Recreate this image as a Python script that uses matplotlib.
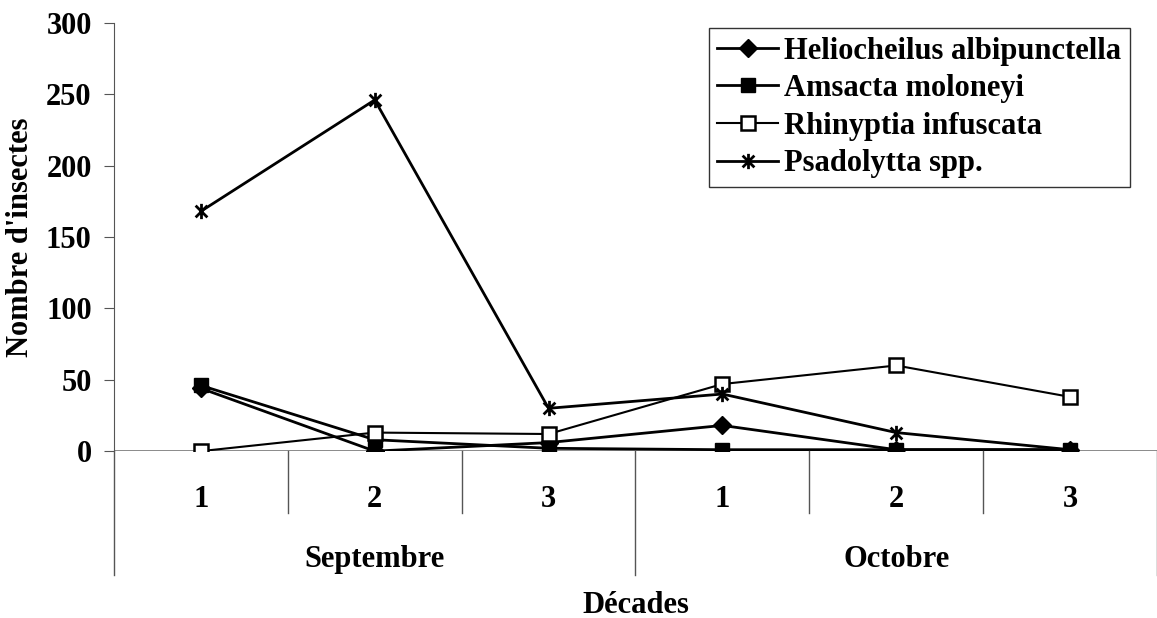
import matplotlib.pyplot as plt
from matplotlib.path import Path

plt.rcParams['font.family'] = ['Liberation Serif', 'DejaVu Serif']
plt.rcParams['font.weight'] = 'bold'

# data
decades = ['1', '2', '3', '1', '2', '3']
months = ['Septembre', 'Octobre']
heliocheilus = [44, 0, 6, 18, 1, 1]
amsacta = [46, 8, 2, 1, 1, 1]
rhinyptia = [0, 13, 12, 47, 60, 38]
psadolytta = [168, 246, 30, 40, 13, 1]

FS = 22

# excel-like star marker: x with a vertical bar
star = Path([(-1, -1), (1, 1), (-1, 1), (1, -1), (0, -1.3), (0, 1.3)],
            [Path.MOVETO, Path.LINETO, Path.MOVETO, Path.LINETO, Path.MOVETO, Path.LINETO])

fig = plt.figure(figsize=(11.57, 6.18), dpi=100)
ax = fig.add_axes([0.0985, 0.270, 0.9015, 0.693])

x = list(range(len(decades)))
ax.plot(x, heliocheilus, color='black', lw=2, marker='D', ms=9, label='Heliocheilus albipunctella')
ax.plot(x, amsacta, color='black', lw=2, marker='s', ms=10, label='Amsacta moloneyi')
ax.plot(x, rhinyptia, color='black', lw=1.5, marker='s', ms=10, mfc='white', mew=1.8,
        label='Rhinyptia infuscata')
ax.plot(x, psadolytta, color='black', lw=2, marker=star, ms=11, mew=2, label='Psadolytta spp.')

ax.set_xlim(-0.5, 5.5)
ax.set_ylim(0, 300)
ax.set_yticks(range(0, 301, 50))
ax.tick_params(axis='y', labelsize=FS, length=7, color='#555555', pad=9)
ax.set_xticks([])
for s in ['top', 'right', 'bottom']:
    ax.spines[s].set_visible(False)
ax.spines['left'].set_color('#555555')
ax.axhline(0, color='#777777', lw=1.2, zorder=0)
ax.set_ylabel("Nombre d'insectes", fontsize=FS, fontweight='bold', labelpad=8)

# category axis: decade labels, month labels and separators below the plot
trans = ax.get_xaxis_transform()
for i, d in enumerate(decades):
    ax.text(i, -0.112, d, transform=trans, ha='center', va='center', fontsize=FS, fontweight='bold')
for i, m in enumerate(months):
    ax.text(1 + 3 * i, -0.252, m, transform=trans, ha='center', va='center', fontsize=FS,
            fontweight='bold')
for b in [0.5, 1.5, 3.5, 4.5]:
    ax.plot([b, b], [0, -0.145], transform=trans, color='#555555', lw=1, clip_on=False)
for b in [-0.5, 2.5, 5.5]:
    ax.plot([b, b], [0, -0.29], transform=trans, color='#555555', lw=1, clip_on=False)
ax.text(2.5, -0.36, 'Décades', transform=trans, ha='center', va='center', fontsize=FS,
        fontweight='bold')

leg = ax.legend(loc='upper right', bbox_to_anchor=(1130 / 1157, 590 / 618),
                bbox_transform=fig.transFigure, fontsize=FS, frameon=True, fancybox=False,
                edgecolor='black', handlelength=2.0, handletextpad=0.2, labelspacing=0.28,
                borderpad=0.28, borderaxespad=0)
leg.get_frame().set_linewidth(1.0)

fig.savefig('out.png', dpi=100)
